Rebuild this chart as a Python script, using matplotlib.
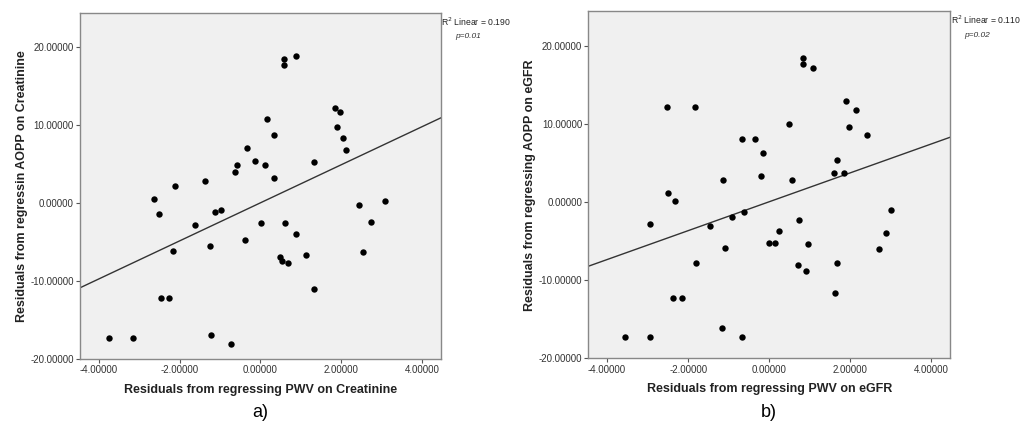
import matplotlib
matplotlib.use("Agg")
import matplotlib.pyplot as plt

plt.rcParams["font.family"] = ["Liberation Sans", "DejaVu Sans"]

# panel a: PWV vs AOPP residuals, adjusted for creatinine
a_x = [0.58, 0.58, 0.88, 1.85, 1.98, 0.17, 1.89, 0.35, 2.05, 2.11,
       -0.33, -0.14, 0.11, -0.59, -0.62, 0.35, 1.33, -1.38, -2.10, -2.63,
       -2.52, -1.13, -0.97, -1.62, 0.01, 0.62, 0.89, -0.39, -1.25, -2.16,
       0.49, 0.53, 0.69, 1.14, 1.33, -2.46, -2.26, -3.75, -3.15, -1.23,
       -0.72, 2.45, 3.09, 2.73, 2.55]
a_y = [18.46, 17.70, 18.80, 12.18, 11.70, 10.80, 9.70, 8.76, 8.40, 6.84,
       7.00, 5.38, 4.91, 4.91, 3.97, 3.25, 5.30, 2.78, 2.14, 0.56,
       -1.37, -1.20, -0.85, -2.78, -2.56, -2.56, -3.97, -4.70, -5.47, -6.20,
       -6.92, -7.39, -7.69, -6.62, -10.98, -12.14, -12.14, -17.30, -17.30, -16.97,
       -18.08, -0.21, 0.30, -2.48, -6.24]
a_fit = (2.44, 0.03)  # slope, intercept
a_r2, a_p = "0.190", "0.01"

# panel b: PWV vs AOPP residuals, adjusted for eGFR
b_x = [0.83, 0.83, 1.09, -2.52, -1.82, 1.89, 2.15, 0.50, 1.98, 2.41,
       -0.68, -0.34, -0.15, -0.21, -1.15, 0.55, 1.68, 1.60, 1.84, -2.50,
       -2.33, -2.95, -1.46, -0.91, -0.62, -1.08, 0.00, 0.15, 0.25, 0.74,
       0.96, 0.70, 0.90, 1.68, 1.62, -1.80, -2.37, -2.16, -3.55, -2.95,
       -1.17, -0.67, 2.70, 2.89, 3.00]
b_y = [18.44, 17.67, 17.11, 12.15, 12.15, 12.96, 11.81, 9.93, 9.67, 8.64,
       8.09, 8.09, 6.25, 3.38, 2.87, 2.82, 5.43, 3.72, 3.72, 1.16,
       0.13, -2.82, -3.12, -1.97, -1.24, -5.86, -5.18, -5.22, -3.72, -2.31,
       -5.35, -8.09, -8.86, -7.83, -11.59, -7.83, -12.28, -12.28, -17.33, -17.33,
       -16.13, -17.28, -6.03, -3.94, -1.07]
b_fit = (1.85, 0.04)
b_r2, b_p = "0.110", "0.02"

x_ticks = [-4, -2, 0, 2, 4]
y_ticks = [-20, -10, 0, 10, 20]

panels = [
    dict(x=a_x, y=a_y, fit=a_fit, r2=a_r2, p=a_p,
         xlabel="Residuals from regressing PWV on Creatinine",
         ylabel="Residuals from regressin AOPP on Creatinine",
         tag="a)", rect=[0.078, 0.155, 0.351, 0.815]),
    dict(x=b_x, y=b_y, fit=b_fit, r2=b_r2, p=b_p,
         xlabel="Residuals from regressing PWV on eGFR",
         ylabel="Residuals from regressing AOPP on eGFR",
         tag="b)", rect=[0.573, 0.157, 0.352, 0.816]),
]

fig = plt.figure(figsize=(10.27, 4.25), dpi=100)

for pn in panels:
    ax = fig.add_axes(pn["rect"])
    ax.set_facecolor("#f0f0f0")
    xlim = (-4.46, 4.46)
    ax.set_xlim(*xlim)
    ax.set_ylim(-20, 24.4)

    slope, icpt = pn["fit"]
    ax.plot(xlim, [icpt + slope * v for v in xlim], color="#333333", lw=1.0, zorder=2)
    ax.plot(pn["x"], pn["y"], "o", color="black", ms=4.6, mew=0, zorder=3)

    ax.set_xticks(x_ticks)
    ax.set_yticks(y_ticks)
    ax.set_xticklabels([f"{v:.5f}" for v in x_ticks])
    ax.set_yticklabels([f"{v:.5f}" for v in y_ticks])
    ax.tick_params(labelsize=7, labelcolor="#333333", color="#555555",
                   length=3, width=0.8, direction="out", pad=1.5)
    for s in ax.spines.values():
        s.set_color("#888888")
        s.set_linewidth(1.0)

    ax.set_xlabel(pn["xlabel"], fontsize=9, fontweight="bold", color="#222222", labelpad=6)
    ax.set_ylabel(pn["ylabel"], fontsize=9, fontweight="bold", color="#222222", labelpad=2)

    ax.text(1.002, 0.975, "R$^2$ Linear = " + pn["r2"], transform=ax.transAxes,
            fontsize=6.2, color="#222222", ha="left", va="center")
    ax.text(1.04, 0.93, "p=" + pn["p"], transform=ax.transAxes,
            fontsize=6, style="italic", color="#333333", ha="left", va="center")

    left, _, width, _ = pn["rect"]
    fig.text(left + width / 2, 0.03, pn["tag"], fontsize=13,
             ha="center", va="center", color="black")

fig.savefig("out.png", dpi=100)
